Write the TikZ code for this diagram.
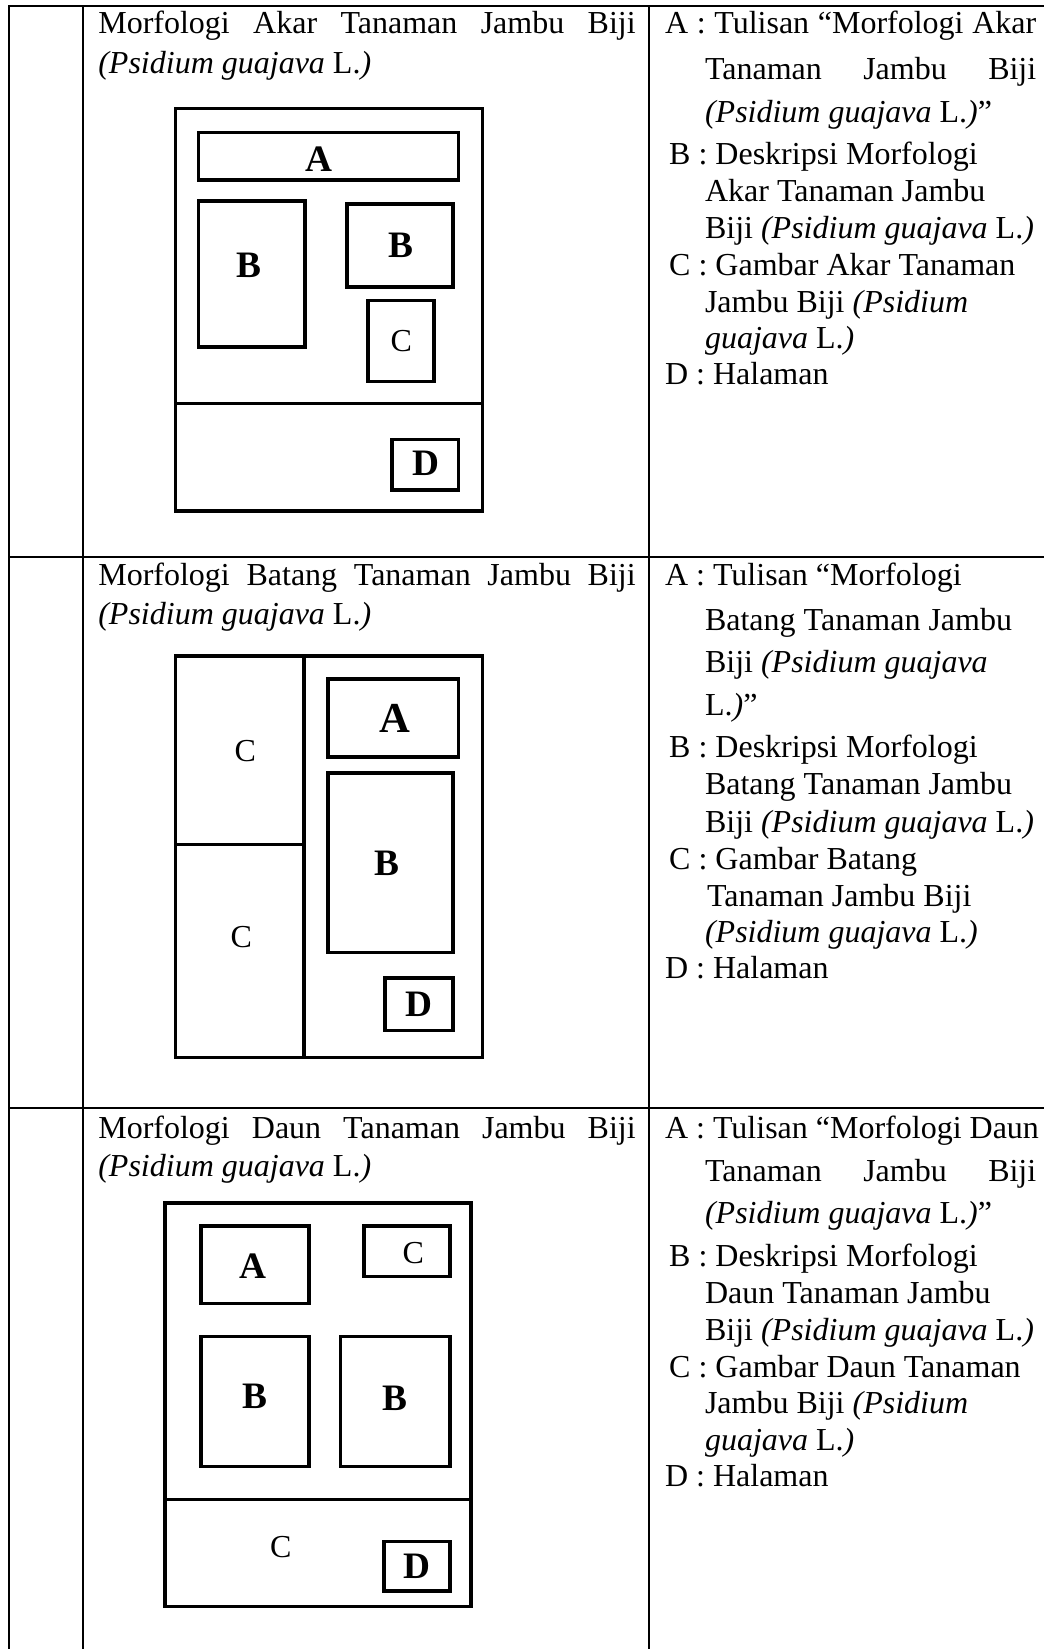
\documentclass[tikz,border=0pt]{standalone}
\usepackage{fontspec}
\setmainfont{Liberation Serif}
\newcommand{\sciname}{\textit{(Psidium guajava} L.\textit{)}}
\begin{document}
\begin{tikzpicture}[x=0.375pt,y=-0.375pt,
  rule/.style={line width=0.75pt},
  panel/.style={line width=1.3pt},
  txt/.style={anchor=base west,inner sep=0pt,font=\fontsize{12}{14}\selectfont},
  lbl/.style={inner sep=0pt,font=\fontsize{14}{16}\selectfont\bfseries},
  lblbig/.style={inner sep=0pt,font=\fontsize{16}{18}\selectfont\bfseries},
  lblc/.style={inner sep=0pt,font=\fontsize{12}{14}\selectfont},
]
\useasboundingbox (0,0) rectangle (1044,1649);
\fill[white] (0,0) rectangle (1044,1649);

% table rules
\draw[rule] (8.7,1649) -- (8.7,6) -- (1044,6);
\draw[rule] (82.7,6) -- (82.7,1649);
\draw[rule] (649.3,6) -- (649.3,1649);
\draw[rule] (8.7,557) -- (1044,557);
\draw[rule] (8.7,1107.7) -- (1044,1107.7);

% ---------- row 1: Akar ----------
\node[txt] (t1a) at (97.8,34) {\makebox[201.5pt][s]{Morfologi Akar Tanaman Jambu Biji}};
\node[txt] (t1b) at (97.8,74) {\sciname};

\draw[panel] (175.6,108.3) rectangle (482.6,511);
\draw[panel] (175.6,403.7) -- (482.6,403.7);
\draw[panel] (198.7,132.5) rectangle (458.4,179.8);
\draw[panel] (198.7,200.8) rectangle (304.9,347);
\draw[panel] (347,204) rectangle (453.2,287);
\draw[panel] (368,300.7) rectangle (434.2,381.7);
\draw[panel] (392.2,439.5) rectangle (458.4,490);
\node[lbl]  (a1)  at (318.7,158.8) {A};
\node[lbl]  (b1l) at (249.2,265) {B};
\node[lbl]  (b1r) at (400.8,245) {B};
\node[lblc] (c1)  at (401.2,340.7) {C};
\node[lbl]  (d1)  at (425.5,463.7) {D};

\node[txt] (k1a1) at (664.5,34)  {\makebox[139.2pt][s]{A : Tulisan “Morfologi Akar}};
\node[txt] (k1a2) at (704.5,80)  {\makebox[124.2pt][s]{Tanaman Jambu Biji}};
\node[txt] (k1a3) at (704.5,123) {\sciname”};
\node[txt] (k1b1) at (668.7,165) {B : Deskripsi Morfologi};
\node[txt] (k1b2) at (704.5,202) {Akar Tanaman Jambu};
\node[txt] (k1b3) at (704.5,239) {Biji \sciname};
\node[txt] (k1c1) at (668.7,276) {C : Gambar Akar Tanaman};
\node[txt] (k1c2) at (704.5,313) {Jambu Biji \textit{(Psidium}};
\node[txt] (k1c3) at (704.5,349) {\textit{guajava} L.\textit{)}};
\node[txt] (k1d)  at (664.5,385) {D : Halaman};

% ---------- row 2: Batang ----------
\node[txt] (t2a) at (97.8,586) {\makebox[201.5pt][s]{Morfologi Batang Tanaman Jambu Biji}};
\node[txt] (t2b) at (97.8,624) {\sciname};

\draw[panel] (175.6,656) rectangle (482.6,1057.7);
\draw[panel] (303.9,656) -- (303.9,1057.7);
\draw[panel] (175.6,844.3) -- (303.9,844.3);
\draw[panel] (328,679.2) rectangle (458.4,757);
\draw[panel] (328,772.8) rectangle (453.2,952.6);
\draw[panel] (384.8,977.8) rectangle (453.2,1030.4);
\node[lblc]   (c2t) at (245.2,750.7) {C};
\node[lblc]   (c2b) at (241.2,936.8) {C};
\node[lblbig] (a2)  at (394.5,718) {A};
\node[lbl]    (b2)  at (387.2,863.2) {B};
\node[lbl]    (d2)  at (419.2,1004) {D};

\node[txt] (k2a1) at (664.5,586) {A : Tulisan “Morfologi};
\node[txt] (k2a2) at (704.5,631) {Batang Tanaman Jambu};
\node[txt] (k2a3) at (704.5,673) {Biji \textit{(Psidium guajava}};
\node[txt] (k2a4) at (704.5,715) {L.\textit{)}”};
\node[txt] (k2b1) at (668.7,757) {B : Deskripsi Morfologi};
\node[txt] (k2b2) at (704.5,794) {Batang Tanaman Jambu};
\node[txt] (k2b3) at (704.5,832) {Biji \sciname};
\node[txt] (k2c1) at (668.7,869) {C : Gambar Batang};
\node[txt] (k2c2) at (706.5,906) {Tanaman Jambu Biji};
\node[txt] (k2c3) at (704.5,942) {\sciname};
\node[txt] (k2d)  at (664.5,978) {D : Halaman};

% ---------- row 3: Daun ----------
\node[txt] (t3a) at (97.8,1138) {\makebox[201.5pt][s]{Morfologi Daun Tanaman Jambu Biji}};
\node[txt] (t3b) at (97.8,1176) {\sciname};

\draw[panel] (165,1202.8) rectangle (471,1606.5);
\draw[panel] (165,1499.3) -- (471,1499.3);
\draw[panel] (200.8,1226) rectangle (309.1,1303.7);
\draw[panel] (363.8,1226) rectangle (450,1276.4);
\draw[panel] (200.8,1336.3) rectangle (309.1,1466.7);
\draw[panel] (340.6,1336.3) rectangle (450,1466.7);
\draw[panel] (383.8,1541.4) rectangle (450,1590.8);
\node[lbl]  (a3)  at (252.5,1265.9) {A};
\node[lblc] (c3t) at (413.2,1253.3) {C};
\node[lbl]  (b3l) at (254.5,1396.3) {B};
\node[lbl]  (b3r) at (394.8,1398.4) {B};
\node[lblc] (c3b) at (280.8,1546.6) {C};
\node[lbl]  (d3)  at (417.2,1566.6) {D};

\node[txt] (k3a1) at (664.5,1138) {A : Tulisan “Morfologi Daun};
\node[txt] (k3a2) at (704.5,1181) {\makebox[124.2pt][s]{Tanaman Jambu Biji}};
\node[txt] (k3a3) at (704.5,1223) {\sciname”};
\node[txt] (k3b1) at (668.7,1266) {B : Deskripsi Morfologi};
\node[txt] (k3b2) at (704.5,1303) {Daun Tanaman Jambu};
\node[txt] (k3b3) at (704.5,1340) {Biji \sciname};
\node[txt] (k3c1) at (668.7,1377) {C : Gambar Daun Tanaman};
\node[txt] (k3c2) at (704.5,1413) {Jambu Biji \textit{(Psidium}};
\node[txt] (k3c3) at (704.5,1450) {\textit{guajava} L.\textit{)}};
\node[txt] (k3d)  at (664.5,1486) {D : Halaman};
\end{tikzpicture}
\end{document}
